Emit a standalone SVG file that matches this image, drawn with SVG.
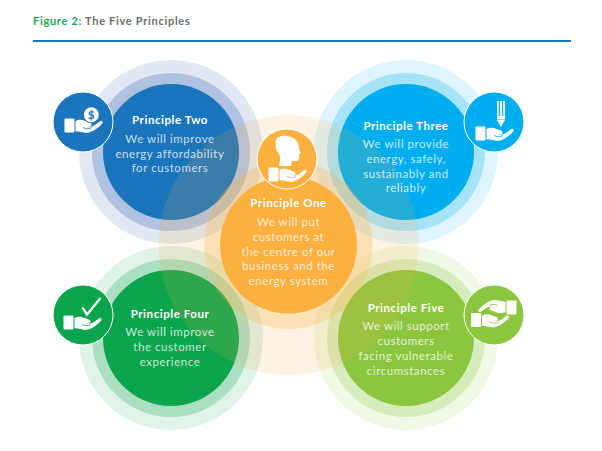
<svg xmlns="http://www.w3.org/2000/svg" xmlns:xlink="http://www.w3.org/1999/xlink" width="602" height="451" viewBox="0 0 602 451">
<style>
text{font-family:"Lato","Liberation Sans",sans-serif;text-anchor:middle;fill:#fff}
.h{font-size:11.5px;font-weight:700;letter-spacing:.55px}
.d{font-size:11.5px;letter-spacing:.55px;fill-opacity:.78}
.o{opacity:.13}.m{opacity:.25}
.b{color:#1b75bc}.c{color:#00aeef}.g{color:#0ba54e}.l{color:#8cc63f}.y{color:#fbb040}
.fc{fill:currentColor}
.ic{stroke:#fff;stroke-width:1}
.w{fill:#fff}
</style>
<defs>
<g id="hand">
<rect x="-18.5" y="-3.5" width="10" height="14" rx="1" fill="#fff"/>
<path d="M-7.5,-1C-4,-3 -1,-2.500 2,-1.200L7,.6C9.500,1.600 9,4.300 6.500,4.200L4,4.200C7,5 9.500,4.600 12,3L17.500,-.9C19.500,-1.600 20.500,.3 18.800,2.100C15,6 10,10 5,10.800C1,11.300 -3,9.500 -7.500,9.300Z" fill="#fff"/>
<path d="M0,5.500C3,7 6,7 9,5.600" fill="none" stroke="currentColor" stroke-width=".8"/>
</g>
</defs>
<text x="33" y="25" style="text-anchor:start;font-size:11px;font-weight:700;letter-spacing:.7px"><tspan fill="#19a85a">Figure 2:</tspan><tspan fill="#6b6e70"> The Five Principles</tspan></text>
<rect x="33" y="40" width="538" height="2" fill="#1b75bc"/>

<g id="principle-two" class="b">
<circle class="fc o" cx="171" cy="152" r="92" style="fill:#1b4fa8"/><circle class="fc m" cx="171" cy="152" r="79" style="fill:#1b4fa8"/><circle class="fc" cx="171" cy="152" r="68"/>
</g>
<g id="principle-three" class="c">
<circle class="fc o" cx="406" cy="152" r="92"/><circle class="fc m" cx="406" cy="152" r="79"/><circle class="fc" cx="406" cy="152" r="68"/>
</g>
<g id="principle-four" class="g">
<circle class="fc o" cx="171" cy="338" r="92"/><circle class="fc m" cx="171" cy="338" r="79"/><circle class="fc" cx="171" cy="338" r="68"/>
</g>
<g id="principle-five" class="l">
<circle class="fc o" cx="406" cy="338" r="92"/><circle class="fc m" cx="406" cy="338" r="79"/><circle class="fc" cx="406" cy="338" r="68"/>
</g>
<g id="principle-one" class="y">
<circle class="fc" cx="288.500" cy="245" r="130" opacity=".15"/><circle class="fc" cx="288.500" cy="245" r="84" opacity=".27"/><circle class="fc" cx="288.500" cy="245" r="68.500"/>
<circle class="fc ic" cx="287" cy="159" r="30"/>
<path class="w" d="M275.500,143C275,137 281,135 287,136C295,137 299,142 299,148C299,150 301,152 300.500,153.500L299,154.500L299,158C299,161 296,161.500 292,161L291,166L279,166C280,160 281,157 279,154C276,151 275.500,147 275.500,143Z"/>
<use xlink:href="#hand" href="#hand" x="287" y="171"/>
<text class="h" x="288.500" y="207">Principle One</text>
<text class="d"><tspan x="288.500" y="226">We will put</tspan><tspan x="288.500" y="241">customers at</tspan><tspan x="288.500" y="256">the centre of our</tspan><tspan x="288.500" y="270">business and the</tspan><tspan x="288.500" y="285">energy system</tspan></text>
</g>
<g id="label-two" class="b">
<circle class="fc ic" cx="83" cy="122" r="30"/>
<use xlink:href="#hand" href="#hand" x="83" y="122"/>
<circle cx="91.300" cy="114.700" r="8.500" class="fc"/>
<circle class="w" cx="91.300" cy="114.700" r="7.500"/>
<text x="91.300" y="118.500" style="font-size:11px;font-weight:900;fill:#1b75bc">$</text>
<text class="h" x="170" y="124">Principle Two</text>
<text class="d"><tspan x="170" y="143">We will improve</tspan><tspan x="170" y="157.500">energy affordability</tspan><tspan x="170" y="172">for customers</tspan></text>
</g>
<g id="label-three" class="c">
<circle class="fc ic" cx="494" cy="122" r="30"/>
<use xlink:href="#hand" href="#hand" x="494" y="130"/>
<path class="w" d="M497,101h1.800v15h1.300v-15h1.800v15h1.300v-15h1.800v18.500h-8zM497,120h8l-4,7z"/>
<text class="h" x="406" y="130">Principle Three</text>
<text class="d"><tspan x="406" y="148">We will provide</tspan><tspan x="406" y="163">energy, safely,</tspan><tspan x="406" y="177.500">sustainably and</tspan><tspan x="406" y="192">reliably</tspan></text>
</g>
<g id="label-four" class="g">
<circle class="fc ic" cx="83" cy="315" r="30"/>
<use xlink:href="#hand" href="#hand" x="82" y="319"/>
<path d="M82.500,307.500L87,314.500L100.500,298" fill="none" stroke="#fff" stroke-width="2.300"/>
<text class="h" x="170" y="318">Principle Four</text>
<text class="d"><tspan x="170" y="336">We will improve</tspan><tspan x="170" y="351">the customer</tspan><tspan x="170" y="366">experience</tspan></text>
</g>
<g id="label-five" class="l">
<circle class="fc ic" cx="494" cy="315" r="30"/>
<use xlink:href="#hand" href="#hand" transform="translate(489.500,316.500)"/>
<use xlink:href="#hand" href="#hand" transform="translate(498,311) rotate(180)"/>
<text class="h" x="406" y="312">Principle Five</text>
<text class="d"><tspan x="406" y="330">We will support</tspan><tspan x="406" y="345">customers</tspan><tspan x="406" y="360">facing vulnerable</tspan><tspan x="406" y="374.500">circumstances</tspan></text>
</g>
</svg>
